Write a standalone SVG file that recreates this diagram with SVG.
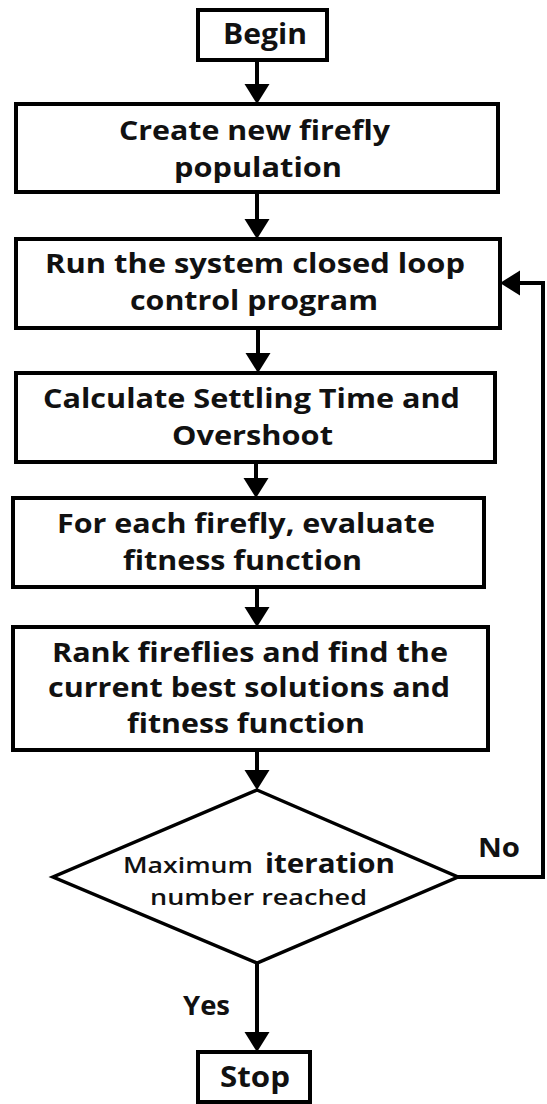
<svg xmlns="http://www.w3.org/2000/svg" width="547" height="1104" viewBox="0 0 547 1104">
<style>
.box{fill:#fff;stroke:#000;stroke-width:4}
.dia{fill:#fff;stroke:#000;stroke-width:3.5}
.con{fill:none;stroke:#000;stroke-width:4}
.t{font-family:"Open Sans","Liberation Sans",sans-serif;font-weight:700;font-size:26px;fill:#111}
.s{font-family:"Open Sans","Liberation Sans",sans-serif;font-weight:600;font-size:22px;fill:#111}
</style>
<defs>
<marker id="ah" markerUnits="userSpaceOnUse" markerWidth="22" markerHeight="26" refX="12" refY="12.5" orient="auto">
<path d="M0,0 L20,12.5 L0,25 Z" fill="#000"/>
</marker>
</defs>
<g id="connectors">
<line class="con" x1="257" y1="60" x2="257" y2="96" marker-end="url(#ah)"/>
<line class="con" x1="257" y1="192" x2="257" y2="231" marker-end="url(#ah)"/>
<line class="con" x1="258" y1="328" x2="258" y2="365" marker-end="url(#ah)"/>
<line class="con" x1="256" y1="462" x2="256" y2="490" marker-end="url(#ah)"/>
<line class="con" x1="257" y1="587" x2="257" y2="619" marker-end="url(#ah)"/>
<line class="con" x1="257" y1="750" x2="257" y2="782" marker-end="url(#ah)"/>
<line class="con" x1="257" y1="963" x2="257" y2="1044" marker-end="url(#ah)"/>
<polyline class="con" points="458,877 543,877 543,283 508,283" marker-end="url(#ah)"/>
<text class="t" x="478" y="857" textLength="42" lengthAdjust="spacingAndGlyphs">No</text>
<text class="t" x="183" y="1015" textLength="47" lengthAdjust="spacingAndGlyphs">Yes</text>
</g>
<g id="begin">
<rect class="box" x="198" y="10" width="129" height="50"/>
<text class="t" x="223" y="44" style="font-size:28px" textLength="84" lengthAdjust="spacingAndGlyphs">Begin</text>
</g>
<g id="create">
<rect class="box" x="16" y="104" width="482" height="88"/>
<text class="t" x="119" y="140" textLength="271" lengthAdjust="spacingAndGlyphs">Create new firefly</text>
<text class="t" x="174" y="177" textLength="168" lengthAdjust="spacingAndGlyphs">population</text>
</g>
<g id="run">
<rect class="box" x="16" y="239" width="484" height="89"/>
<text class="t" x="45" y="273" textLength="420" lengthAdjust="spacingAndGlyphs">Run the system closed loop</text>
<text class="t" x="130" y="310" textLength="248" lengthAdjust="spacingAndGlyphs">control program</text>
</g>
<g id="calc">
<rect class="box" x="16" y="373" width="479" height="89"/>
<text class="t" x="43" y="408" textLength="417" lengthAdjust="spacingAndGlyphs">Calculate Settling Time and</text>
<text class="t" x="172" y="445" textLength="161" lengthAdjust="spacingAndGlyphs">Overshoot</text>
</g>
<g id="evaluate">
<rect class="box" x="13" y="498" width="471" height="89"/>
<text class="t" x="57" y="533" textLength="378" lengthAdjust="spacingAndGlyphs">For each firefly, evaluate</text>
<text class="t" x="123" y="570" textLength="239" lengthAdjust="spacingAndGlyphs">fitness function</text>
</g>
<g id="rank">
<rect class="box" x="13" y="627" width="475" height="123"/>
<text class="t" x="52" y="662" textLength="396" lengthAdjust="spacingAndGlyphs">Rank fireflies and find the</text>
<text class="t" x="48" y="697" textLength="402" lengthAdjust="spacingAndGlyphs">current best solutions and</text>
<text class="t" x="127" y="733" textLength="238" lengthAdjust="spacingAndGlyphs">fitness function</text>
</g>
<g id="decision">
<polygon class="dia" points="257,790 458,877 257,963 53,877"/>
<text class="s" x="123" y="873" textLength="130" lengthAdjust="spacingAndGlyphs">Maximum</text>
<text class="t" x="265" y="873" textLength="130" lengthAdjust="spacingAndGlyphs">iteration</text>
<text class="s" x="150" y="905" textLength="217" lengthAdjust="spacingAndGlyphs">number reached</text>
</g>
<g id="stop">
<rect class="box" x="198" y="1052" width="112" height="50"/>
<text class="t" x="220" y="1087" style="font-size:28px" textLength="70" lengthAdjust="spacingAndGlyphs">Stop</text>
</g>
</svg>
